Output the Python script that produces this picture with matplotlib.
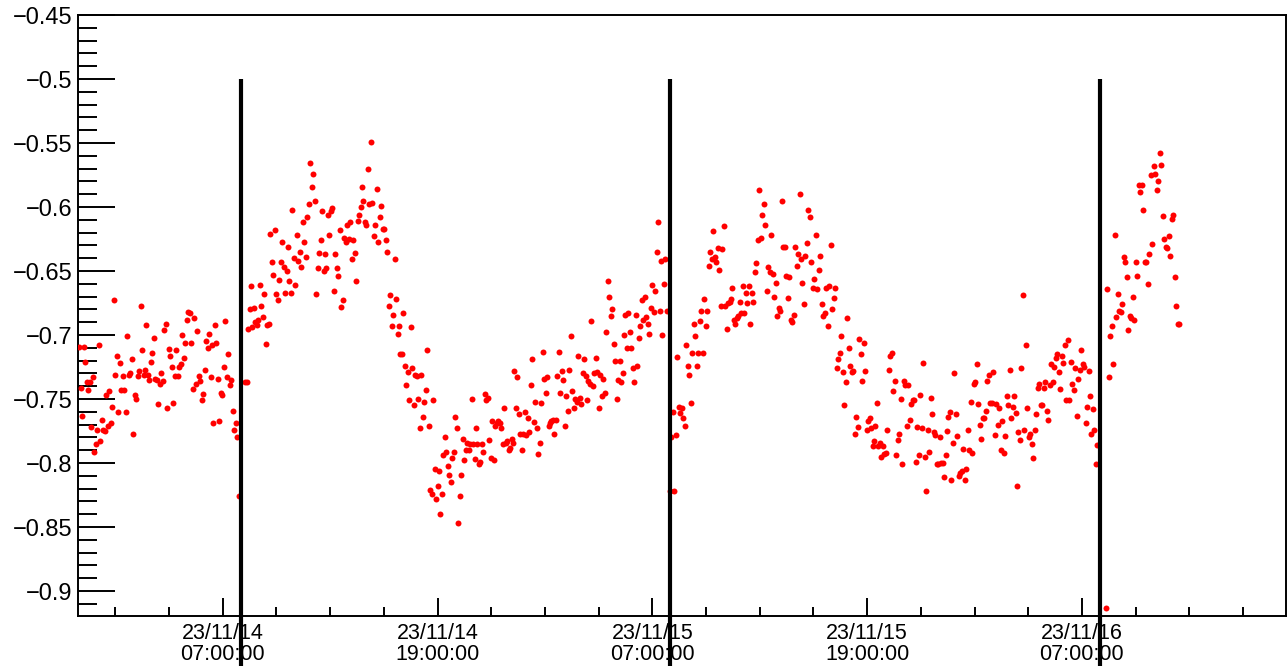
import matplotlib
matplotlib.use('Agg')
import matplotlib.pyplot as plt
import matplotlib.dates as mdates
from matplotlib.ticker import MultipleLocator, FuncFormatter
import pandas as pd

plt.rcParams['font.family'] = ['Liberation Sans', 'DejaVu Sans']

# one list of readings per run, samples evenly spaced between start and end
run_starts = ['2023-11-13 23:00', '2023-11-14 08:15', '2023-11-15 07:59', '2023-11-16 08:19']
run_ends = ['2023-11-14 07:54', '2023-11-15 07:49', '2023-11-16 07:52', '2023-11-16 12:26']
run_boundaries = ['2023-11-14 08:00', '2023-11-15 08:00', '2023-11-16 08:01']

run0 = [
    -0.709, -0.741, -0.763, -0.709, -0.721, -0.737, -0.743, -0.737, -0.772, -0.733,
    -0.791, -0.785, -0.774, -0.708, -0.783, -0.766, -0.774, -0.775, -0.747, -0.771,
    -0.744, -0.769, -0.756, -0.673, -0.731, -0.716, -0.760, -0.722, -0.743, -0.732,
    -0.743, -0.760, -0.701, -0.731, -0.730, -0.719, -0.777, -0.747, -0.750, -0.732,
    -0.728, -0.677, -0.712, -0.731, -0.727, -0.692, -0.731, -0.735, -0.721, -0.714,
    -0.702, -0.734, -0.735, -0.754, -0.738, -0.730, -0.736, -0.696, -0.691, -0.757,
    -0.711, -0.716, -0.725, -0.753, -0.732, -0.712, -0.732, -0.725, -0.723, -0.700,
    -0.718, -0.706, -0.688, -0.682, -0.683, -0.706, -0.742, -0.687, -0.738, -0.697,
    -0.732, -0.736, -0.751, -0.746, -0.727, -0.705, -0.710, -0.699, -0.733, -0.708,
    -0.769, -0.692, -0.706, -0.734, -0.767, -0.745, -0.747, -0.725, -0.689, -0.733,
    -0.715, -0.739, -0.735, -0.759, -0.774, -0.769, -0.780, -0.826]

run1 = [
    -0.737, -0.737,
    -0.695, -0.680, -0.662, -0.694, -0.679, -0.690, -0.692, -0.688, -0.661, -0.677,
    -0.686, -0.668, -0.707, -0.692, -0.691, -0.621, -0.643, -0.653, -0.618, -0.668,
    -0.673, -0.657, -0.643, -0.627, -0.647, -0.667, -0.650, -0.631, -0.658, -0.667,
    -0.602, -0.640, -0.661, -0.622, -0.642, -0.635, -0.647, -0.612, -0.627, -0.639,
    -0.608, -0.598, -0.566, -0.584, -0.574, -0.595, -0.668, -0.648, -0.636, -0.626,
    -0.603, -0.650, -0.637, -0.648, -0.606, -0.622, -0.603, -0.601, -0.666, -0.637,
    -0.648, -0.654, -0.618, -0.678, -0.673, -0.624, -0.627, -0.614, -0.625, -0.612,
    -0.641, -0.626, -0.636, -0.658, -0.611, -0.606, -0.600, -0.584, -0.595, -0.612,
    -0.614, -0.570, -0.598, -0.549, -0.597, -0.623, -0.614, -0.586, -0.627, -0.608,
    -0.599, -0.617, -0.617, -0.626, -0.635, -0.677, -0.669, -0.693, -0.684, -0.641,
    -0.672, -0.699,
    -0.693, -0.715, -0.715, -0.683, -0.724, -0.739, -0.729, -0.751, -0.694, -0.726,
    -0.755, -0.731, -0.732, -0.750, -0.773, -0.731, -0.764, -0.752, -0.743, -0.712,
    -0.771, -0.821, -0.824, -0.751, -0.805, -0.828, -0.818, -0.806, -0.840, -0.824,
    -0.794, -0.780, -0.791, -0.802, -0.809, -0.815, -0.796, -0.791, -0.764, -0.773,
    -0.847, -0.826, -0.809, -0.781, -0.798, -0.790, -0.784, -0.790, -0.785, -0.750,
    -0.785, -0.797, -0.773, -0.785, -0.801, -0.799, -0.785, -0.791, -0.746, -0.751,
    -0.749, -0.782, -0.796, -0.767, -0.798, -0.771, -0.769, -0.767, -0.769, -0.773,
    -0.785, -0.757, -0.784, -0.783, -0.790, -0.788, -0.781, -0.784, -0.728, -0.757,
    -0.733, -0.762, -0.777, -0.790, -0.777, -0.760, -0.778,
    -0.765, -0.776, -0.739, -0.719, -0.768, -0.752, -0.773, -0.793, -0.784, -0.753,
    -0.713, -0.734, -0.745, -0.733, -0.771, -0.769, -0.767, -0.766, -0.777, -0.766,
    -0.732, -0.713, -0.745, -0.728, -0.735, -0.771, -0.748, -0.759, -0.727, -0.701,
    -0.744, -0.757, -0.750, -0.752, -0.716, -0.749, -0.754, -0.730, -0.719, -0.732,
    -0.751, -0.736, -0.738, -0.689, -0.740, -0.730, -0.718, -0.729, -0.757, -0.731,
    -0.748, -0.734, -0.745, -0.698, -0.658, -0.670, -0.685, -0.680, -0.707, -0.720,
    -0.750, -0.735, -0.720, -0.737, -0.730, -0.700, -0.684, -0.710, -0.683, -0.698,
    -0.710, -0.726, -0.737, -0.684, -0.724, -0.702, -0.693, -0.673, -0.688, -0.670,
    -0.686, -0.691, -0.699, -0.679, -0.661, -0.682, -0.666, -0.635, -0.612, -0.681,
    -0.642, -0.700, -0.660, -0.641, -0.681]

run2 = [
    -0.822, -0.780, -0.760, -0.822, -0.778, -0.717, -0.756, -0.761, -0.757, -0.765,
    -0.771, -0.708, -0.724, -0.731, -0.753, -0.714, -0.691, -0.701, -0.724, -0.714,
    -0.689, -0.681, -0.714, -0.672, -0.693, -0.681, -0.646, -0.635, -0.641, -0.619,
    -0.639, -0.643, -0.632, -0.649, -0.677, -0.633, -0.615, -0.677, -0.695, -0.675,
    -0.674, -0.672, -0.663, -0.688, -0.691, -0.687, -0.685, -0.674, -0.683, -0.662,
    -0.683, -0.667, -0.675, -0.662, -0.691, -0.667, -0.674, -0.651, -0.644, -0.626,
    -0.587, -0.624, -0.606, -0.598, -0.614, -0.666, -0.647, -0.651, -0.622, -0.652,
    -0.670, -0.659, -0.685, -0.679, -0.681, -0.595, -0.631, -0.631, -0.654, -0.671,
    -0.655, -0.688, -0.690, -0.684, -0.631, -0.646, -0.637, -0.590, -0.641, -0.659,
    -0.676, -0.638, -0.628, -0.602, -0.608, -0.643, -0.663, -0.656, -0.622, -0.664,
    -0.649, -0.638, -0.676, -0.685, -0.683, -0.663, -0.693, -0.662, -0.630, -0.680,
    -0.671, -0.663, -0.726, -0.719, -0.714, -0.701, -0.729, -0.755, -0.737, -0.687,
    -0.710, -0.724,
    -0.729, -0.728, -0.777, -0.764, -0.772, -0.703, -0.715, -0.736, -0.706, -0.728,
    -0.774, -0.767, -0.765, -0.773, -0.787, -0.783, -0.771, -0.753, -0.787, -0.784,
    -0.795, -0.787, -0.793, -0.792, -0.774, -0.727, -0.716, -0.714, -0.744, -0.736,
    -0.794, -0.782, -0.777, -0.750, -0.801, -0.736, -0.739, -0.771, -0.739, -0.766,
    -0.754, -0.751, -0.751, -0.799, -0.772, -0.794, -0.747, -0.773, -0.722, -0.795,
    -0.822, -0.774, -0.791, -0.749, -0.762, -0.776, -0.778, -0.801, -0.801, -0.780,
    -0.800, -0.800, -0.811, -0.794, -0.775, -0.764, -0.760, -0.813, -0.784, -0.730,
    -0.762, -0.779, -0.810, -0.808, -0.806, -0.789, -0.813, -0.805, -0.774, -0.790,
    -0.752, -0.792, -0.738, -0.737, -0.723, -0.754, -0.770, -0.781, -0.765, -0.765,
    -0.759, -0.736, -0.731, -0.753, -0.753, -0.729, -0.778, -0.754, -0.770, -0.757,
    -0.790,
    -0.767, -0.792, -0.779, -0.748, -0.755, -0.727, -0.765, -0.756, -0.748, -0.761,
    -0.818, -0.776, -0.782, -0.726, -0.669, -0.774, -0.708, -0.757, -0.780, -0.777,
    -0.785, -0.796, -0.774, -0.762, -0.741, -0.738, -0.755, -0.755, -0.741, -0.737,
    -0.759, -0.766, -0.739, -0.723, -0.737, -0.725, -0.718, -0.715, -0.729, -0.742,
    -0.716, -0.722, -0.708, -0.751, -0.704, -0.751, -0.721, -0.738, -0.743, -0.726,
    -0.763, -0.734, -0.727, -0.712, -0.723, -0.725, -0.769, -0.756, -0.728, -0.748,
    -0.777, -0.758, -0.774, -0.801, -0.786]

run3 = [
    -0.913, -0.664, -0.733, -0.701, -0.693, -0.723, -0.622, -0.686, -0.668, -0.681,
    -0.682, -0.676, -0.639, -0.643, -0.655, -0.696, -0.685, -0.687, -0.670, -0.688,
    -0.643, -0.654, -0.583, -0.588, -0.583, -0.602, -0.643, -0.643, -0.660, -0.637,
    -0.575, -0.629, -0.568, -0.574, -0.587, -0.580, -0.558, -0.567, -0.607, -0.625,
    -0.631, -0.632, -0.623, -0.638, -0.609, -0.606, -0.655, -0.677, -0.691, -0.691]

runs = [run0, run1, run2, run3]

fig = plt.figure(figsize=(12.88, 6.66), dpi=100)
ax = fig.add_axes([78 / 1288, 50 / 666, 1208 / 1288, 601 / 666])

for vals, start, end in zip(runs, run_starts, run_ends):
    times = pd.date_range(start, end, periods=len(vals))
    ax.plot(times, vals, 'o', color='red', ms=4.3, mec='none', zorder=3)

# run boundaries
ax.vlines(pd.to_datetime(run_boundaries), -0.96, -0.5, colors='black',
          linewidth=3, clip_on=False, zorder=5)

ax.set_xlim(pd.Timestamp('2023-11-13 22:55'), pd.Timestamp('2023-11-16 18:24'))
ax.set_ylim(-0.9195, -0.45)

ax.xaxis.set_major_locator(mdates.HourLocator(byhour=[7, 19]))
ax.xaxis.set_minor_locator(mdates.HourLocator(byhour=range(1, 24, 3)))
ax.xaxis.set_major_formatter(mdates.DateFormatter('%y/%m/%d\n%H:%M:%S'))

ax.yaxis.set_major_locator(MultipleLocator(0.05))
ax.yaxis.set_minor_locator(MultipleLocator(0.01))
ax.yaxis.set_major_formatter(FuncFormatter(
    lambda v, p: f'{v:.2f}'.rstrip('0').replace('-', '\u2212')))

ax.tick_params(axis='both', which='both', direction='in', width=1.4,
               top=False, right=False, color='black')
ax.tick_params(axis='y', which='major', length=26.5, labelsize=17, pad=4)
ax.tick_params(axis='y', which='minor', length=13.5)
ax.tick_params(axis='x', which='major', length=13, labelsize=15.5, pad=5)
ax.tick_params(axis='x', which='minor', length=6.5)

for s in ax.spines.values():
    s.set_linewidth(1.4)

fig.canvas.draw()
for lbl in ax.get_xticklabels():
    lbl.set_linespacing(1.0)

fig.savefig('out.png', dpi=100, facecolor='white')
